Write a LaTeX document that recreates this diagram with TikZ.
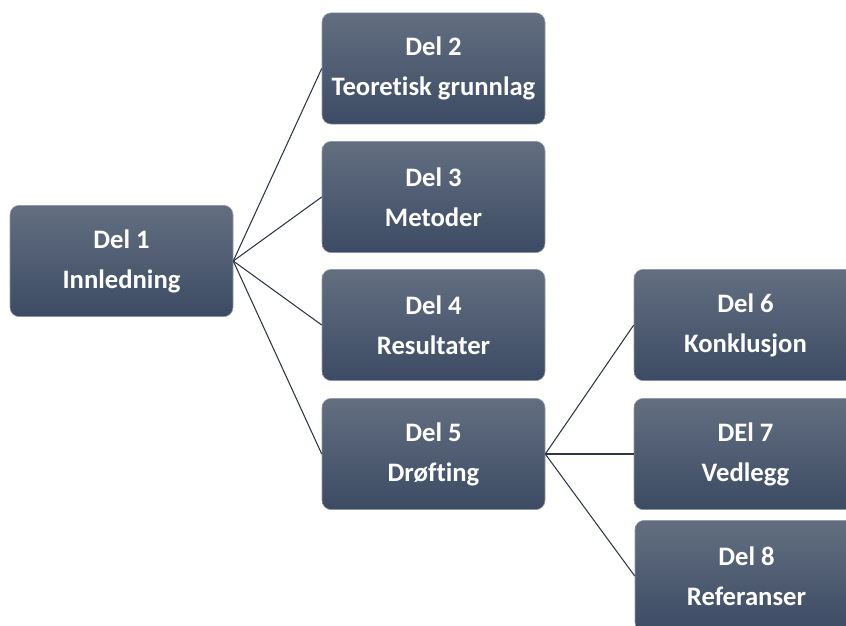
\documentclass[tikz,border=0pt]{standalone}
\usepackage{fontspec}
\setmainfont{Carlito}[Ligatures=NoCommon]
\definecolor{boxtop}{RGB}{99,110,128}
\definecolor{boxbot}{RGB}{60,75,100}
\definecolor{linec}{RGB}{45,55,72}
\begin{document}
\begin{tikzpicture}[x=0.75pt,y=-0.75pt,
  partbox/.style={rectangle, rounded corners=7pt, top color=boxtop, bottom color=boxbot,
    draw=boxtop!70!white, line width=0.4pt, minimum width=167.25pt, minimum height=83.5pt,
    text=white, align=center, inner sep=0pt,
    font=\bfseries\fontsize{20}{30}\selectfont},
  conn/.style={draw=linec, line width=0.8pt}]
\useasboundingbox (0,0) rectangle (846,625);
\node[partbox] (d1) at (121.5,261) {Del 1\\Innledning};
\node[partbox] (d2) at (433.5,68.5) {Del 2\\Teoretisk grunnlag};
\node[partbox] (d3) at (433.5,197) {Del 3\\Metoder};
\node[partbox] (d4) at (433.5,325) {Del 4\\Resultater};
\node[partbox] (d5) at (433.5,454) {Del 5\\Drøfting};
\node[partbox] (d6) at (745.5,325) {Del 6\\Konklusjon};
\node[partbox] (d7) at (745.5,454) {DEl 7\\Vedlegg};
\node[partbox] (d8) at (746.5,576) {Del 8\\Referanser};
\foreach \t in {d2,d3,d4,d5} \draw[conn] (d1.east) -- (\t.west);
\foreach \t in {d6,d7,d8} \draw[conn] (d5.east) -- (\t.west);
\end{tikzpicture}
\end{document}
